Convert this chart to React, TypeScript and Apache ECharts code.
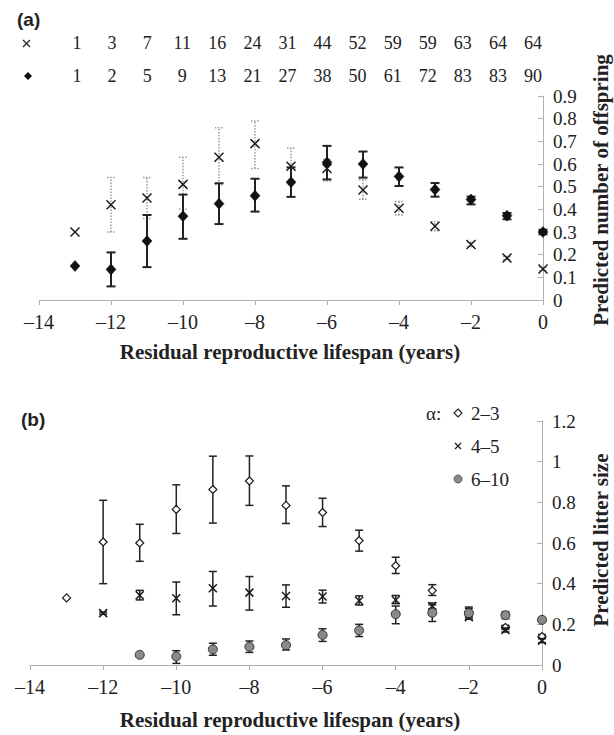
import React, { useEffect, useRef } from "react";
import * as echarts from "echarts";

const SERIF = '"Liberation Serif", "Times New Roman", serif';
const SANS = '"Liberation Sans", Arial, sans-serif';

// x positions (residual reproductive lifespan, years)
const XS = [-13, -12, -11, -10, -9, -8, -7, -6, -5, -4, -3, -2, -1, 0];

// Panel (a): sample sizes shown in the header table
const N_CROSS = [1, 3, 7, 11, 16, 24, 31, 44, 52, 59, 59, 63, 64, 64];
const N_DIAM = [1, 2, 5, 9, 13, 21, 27, 38, 50, 61, 72, 83, 83, 90];

// Panel (a): × series (dotted grey error bars)
const A_CROSS = [0.3, 0.42, 0.45, 0.51, 0.63, 0.69, 0.59, 0.58, 0.485, 0.405, 0.325, 0.245, 0.185, 0.137];
const A_CROSS_LO = [null, 0.3, 0.36, 0.4, 0.51, 0.58, 0.52, 0.525, 0.445, 0.375, 0.305, 0.235, 0.178, 0.13];
const A_CROSS_HI = [null, 0.54, 0.54, 0.63, 0.76, 0.79, 0.67, 0.62, 0.53, 0.435, 0.345, 0.255, 0.192, 0.145];

// Panel (a): ◆ series (solid black error bars)
const A_DIAM = [0.15, 0.135, 0.26, 0.37, 0.425, 0.46, 0.52, 0.607, 0.6, 0.545, 0.487, 0.443, 0.372, 0.3];
const A_DIAM_LO = [null, 0.06, 0.145, 0.27, 0.335, 0.39, 0.455, 0.532, 0.54, 0.503, 0.456, 0.422, 0.356, 0.29];
const A_DIAM_HI = [null, 0.21, 0.375, 0.465, 0.515, 0.535, 0.585, 0.68, 0.655, 0.585, 0.516, 0.456, 0.384, 0.31];

// Panel (b): α 2–3 (open diamonds)
const B_D = [0.33, 0.605, 0.6, 0.765, 0.863, 0.905, 0.785, 0.75, 0.612, 0.488, 0.366, 0.26, 0.185, 0.14];
const B_D_LO = [null, 0.4, 0.51, 0.647, 0.698, 0.785, 0.696, 0.681, 0.56, 0.45, 0.342, 0.24, 0.175, 0.13];
const B_D_HI = [null, 0.81, 0.692, 0.886, 1.027, 1.028, 0.881, 0.82, 0.663, 0.53, 0.395, 0.285, 0.195, 0.15];

// Panel (b): α 4–5 (crosses)
const B_X = [null, 0.255, 0.343, 0.328, 0.377, 0.356, 0.339, 0.337, 0.316, 0.32, 0.29, 0.235, 0.172, 0.12];
const B_X_LO = [null, 0.25, 0.32, 0.247, 0.29, 0.27, 0.284, 0.305, 0.295, 0.302, 0.275, 0.225, 0.162, 0.11];
const B_X_HI = [null, 0.26, 0.367, 0.408, 0.46, 0.435, 0.394, 0.368, 0.34, 0.342, 0.305, 0.245, 0.182, 0.13];

// Panel (b): α 6–10 (grey circles)
const B_C = [null, null, 0.05, 0.042, 0.077, 0.09, 0.098, 0.148, 0.17, 0.25, 0.257, 0.255, 0.245, 0.222];
const B_C_LO = [null, null, null, 0.008, 0.048, 0.062, 0.074, 0.116, 0.14, 0.203, 0.214, 0.233, 0.228, 0.21];
const B_C_HI = [null, null, null, 0.07, 0.107, 0.118, 0.128, 0.178, 0.2, 0.29, 0.296, 0.278, 0.262, 0.234];

const A_TICKS = { min: -14, max: 0, interval: 2 };
const B_YMAX = 1.2;
const A_YMAX = 0.9;

type Kind = "cross" | "diamondFill" | "diamondOpen" | "circle";
interface ErrStyle { color: string; width: number; dash?: number[]; cap: number; }

function toData(vals: (number | null)[], lo: (number | null)[], hi: (number | null)[]) {
  const out: number[][] = [];
  XS.forEach((x, i) => {
    const v = vals[i];
    if (v == null) return;
    out.push([x, v, lo[i] == null ? NaN : (lo[i] as number), hi[i] == null ? NaN : (hi[i] as number)]);
  });
  return out;
}

function markerShape(kind: Kind, cx: number, cy: number, s: number) {
  if (kind === "cross") {
    return [
      { type: "line", shape: { x1: cx - s, y1: cy - s, x2: cx + s, y2: cy + s }, style: { stroke: "#1a1a1a", lineWidth: 1.5 } },
      { type: "line", shape: { x1: cx - s, y1: cy + s, x2: cx + s, y2: cy - s }, style: { stroke: "#1a1a1a", lineWidth: 1.5 } },
    ];
  }
  if (kind === "diamondFill") {
    return [{ type: "polygon", shape: { points: [[cx, cy - s * 1.1], [cx + s, cy], [cx, cy + s * 1.1], [cx - s, cy]] }, style: { fill: "#111", stroke: "#111", lineWidth: 0.5 } }];
  }
  if (kind === "diamondOpen") {
    return [{ type: "polygon", shape: { points: [[cx, cy - s], [cx + s, cy], [cx, cy + s], [cx - s, cy]] }, style: { fill: "#fff", stroke: "#1a1a1a", lineWidth: 1.2 } }];
  }
  return [{ type: "circle", shape: { cx, cy, r: s }, style: { fill: "#8a8a8a", stroke: "#333", lineWidth: 1 } }];
}

function errSeries(name: string, gridIdx: number, data: number[][], kind: Kind, size: number, es: ErrStyle, z: number) {
  return {
    type: "custom",
    name,
    xAxisIndex: gridIdx,
    yAxisIndex: gridIdx,
    z,
    clip: false,
    data,
    renderItem: (_p: any, api: any) => {
      const x = api.value(0), y = api.value(1), lo = api.value(2), hi = api.value(3);
      const p = api.coord([x, y]);
      const children: any[] = [];
      if (isFinite(lo) && isFinite(hi)) {
        const a = api.coord([x, lo]);
        const b = api.coord([x, hi]);
        const st = { stroke: es.color, lineWidth: es.width, lineDash: es.dash };
        const h = es.cap / 2;
        children.push({ type: "line", shape: { x1: p[0], y1: a[1], x2: p[0], y2: b[1] }, style: st });
        children.push({ type: "line", shape: { x1: p[0] - h, y1: a[1], x2: p[0] + h, y2: a[1] }, style: st });
        children.push({ type: "line", shape: { x1: p[0] - h, y1: b[1], x2: p[0] + h, y2: b[1] }, style: st });
      }
      children.push(...markerShape(kind, p[0], p[1], size));
      return { type: "group", children };
    },
  };
}

const dash = (v: number) => (v < 0 ? "\u2013" + Math.abs(v) : String(v));

function xAxisCfg(gridIndex: number) {
  return {
    type: "value",
    gridIndex,
    min: A_TICKS.min,
    max: A_TICKS.max,
    interval: A_TICKS.interval,
    axisLine: { show: true, onZero: false, lineStyle: { color: "#b0b0b0", width: 1 } },
    axisTick: { show: true, inside: false, length: 5, lineStyle: { color: "#b0b0b0" } },
    splitLine: { show: false },
    axisLabel: { formatter: dash, fontFamily: SERIF, fontSize: 20, color: "#222", margin: 12 },
  };
}

function yAxisCfg(gridIndex: number, max: number, interval: number) {
  return {
    type: "value",
    gridIndex,
    position: "right",
    min: 0,
    max,
    interval,
    axisLine: { show: true, lineStyle: { color: "#b0b0b0", width: 1 } },
    axisTick: { show: true, inside: true, length: 5, lineStyle: { color: "#b0b0b0" } },
    splitLine: { show: false },
    axisLabel: { fontFamily: SERIF, fontSize: 19, color: "#222", margin: 10 },
  };
}

const TITLE_FONT = `bold 21px ${SERIF}`;

const option: any = {
  animation: false,
  backgroundColor: "#fff",
  grid: [
    { left: 39, right: 71, top: 96, height: 204 },
    { left: 30, right: 72, top: 421, height: 244 },
    { left: 77, right: 81, top: 43, height: 33 },
  ],
  xAxis: [
    xAxisCfg(0),
    xAxisCfg(1),
    { type: "value", gridIndex: 2, min: 0, max: N_CROSS.length - 1, show: false },
  ],
  yAxis: [
    yAxisCfg(0, A_YMAX, 0.1),
    yAxisCfg(1, B_YMAX, 0.2),
    { type: "value", gridIndex: 2, min: 0, max: 1, show: false },
  ],
  series: [
    errSeries("a ×", 0, toData(A_CROSS, A_CROSS_LO, A_CROSS_HI), "cross", 4.5, { color: "#9a9a9a", width: 1.5, dash: [1.5, 1.5], cap: 8 }, 2),
    errSeries("a ◆", 0, toData(A_DIAM, A_DIAM_LO, A_DIAM_HI), "diamondFill", 5, { color: "#222", width: 2, cap: 9 }, 3),
    errSeries("2–3", 1, toData(B_D, B_D_LO, B_D_HI), "diamondOpen", 4, { color: "#222", width: 1.5, cap: 8 }, 2),
    errSeries("4–5", 1, toData(B_X, B_X_LO, B_X_HI), "cross", 4, { color: "#222", width: 1.5, cap: 8 }, 3),
    errSeries("6–10", 1, toData(B_C, B_C_LO, B_C_HI), "circle", 4.5, { color: "#222", width: 1.5, cap: 8 }, 4),
    {
      type: "custom",
      name: "table",
      xAxisIndex: 2,
      yAxisIndex: 2,
      clip: false,
      data: [...N_CROSS.map((n, i) => [i, 1, n]), ...N_DIAM.map((n, i) => [i, 0, n])],
      renderItem: (_p: any, api: any) => {
        const p = api.coord([api.value(0), api.value(1)]);
        return {
          type: "text",
          x: p[0],
          y: p[1],
          style: { text: String(api.value(2)), font: `18px ${SERIF}`, fill: "#222", align: "center", verticalAlign: "middle" },
        };
      },
    },
  ],
  graphic: [
    { type: "text", left: 17, top: 10, style: { text: "(a)", font: `bold 19px ${SANS}`, fill: "#222" } },
    { type: "text", left: 21, top: 410, style: { text: "(b)", font: `bold 19px ${SANS}`, fill: "#222" } },
    // table row symbols
    { type: "line", shape: { x1: 23, y1: 40, x2: 30, y2: 47 }, style: { stroke: "#222", lineWidth: 1.2 } },
    { type: "line", shape: { x1: 23, y1: 47, x2: 30, y2: 40 }, style: { stroke: "#222", lineWidth: 1.2 } },
    { type: "polygon", shape: { points: [[28, 72], [32, 76], [28, 80], [24, 76]] }, style: { fill: "#111" } },
    // axis titles
    { type: "text", x: 290, y: 352, style: { text: "Residual reproductive lifespan (years)", font: TITLE_FONT, fill: "#222", align: "center", verticalAlign: "middle" } },
    { type: "text", x: 290, y: 720, style: { text: "Residual reproductive lifespan (years)", font: TITLE_FONT, fill: "#222", align: "center", verticalAlign: "middle" } },
    { type: "text", x: 601, y: 190, rotation: Math.PI / 2, style: { text: "Predicted number of offspring", font: TITLE_FONT, fill: "#222", align: "center", verticalAlign: "middle" } },
    { type: "text", x: 601, y: 540, rotation: Math.PI / 2, style: { text: "Predicted litter size", font: TITLE_FONT, fill: "#222", align: "center", verticalAlign: "middle" } },
    // legend panel (b)
    { type: "text", x: 426, y: 413, style: { text: "\u03b1:", font: `19px ${SERIF}`, fill: "#222", verticalAlign: "middle" } },
    { type: "polygon", shape: { points: [[458, 409], [462, 413], [458, 417], [454, 413]] }, style: { fill: "#fff", stroke: "#222", lineWidth: 1.1 } },
    { type: "line", shape: { x1: 455, y1: 443, x2: 461, y2: 449 }, style: { stroke: "#222", lineWidth: 1.2 } },
    { type: "line", shape: { x1: 455, y1: 449, x2: 461, y2: 443 }, style: { stroke: "#222", lineWidth: 1.2 } },
    { type: "circle", shape: { cx: 458, cy: 479, r: 4 }, style: { fill: "#8a8a8a", stroke: "#444", lineWidth: 0.8 } },
    { type: "text", x: 471, y: 413, style: { text: "2\u20133", font: `19px ${SERIF}`, fill: "#222", verticalAlign: "middle" } },
    { type: "text", x: 471, y: 446, style: { text: "4\u20135", font: `19px ${SERIF}`, fill: "#222", verticalAlign: "middle" } },
    { type: "text", x: 471, y: 479, style: { text: "6\u201310", font: `19px ${SERIF}`, fill: "#222", verticalAlign: "middle" } },
  ],
};

export default function App() {
  const ref = useRef<HTMLDivElement>(null);
  useEffect(() => {
    const chart = echarts.init(ref.current!, null, { renderer: "svg" });
    chart.setOption(option);
    return () => chart.dispose();
  }, []);
  return <div ref={ref} style={{ position: "absolute", left: 0, top: 0, width: 614, height: 735 }} />;
}
